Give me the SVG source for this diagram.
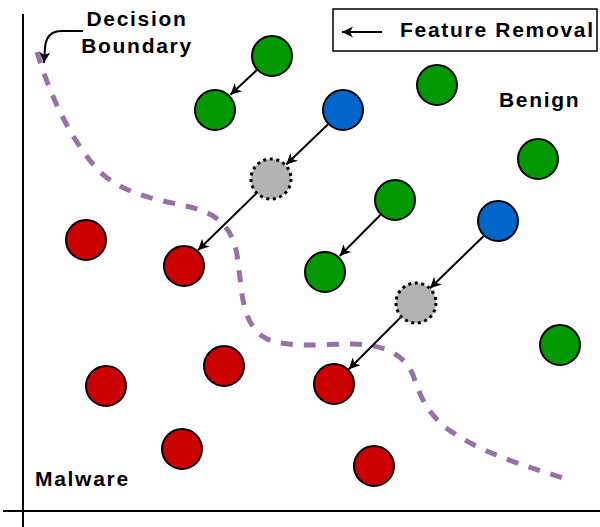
<svg xmlns="http://www.w3.org/2000/svg" width="600" height="527" viewBox="0 0 600 527">
<style>
.g{fill:#009900;stroke:#000;stroke-width:2}
.b{fill:#0066cc;stroke:#000;stroke-width:2}
.r{fill:#cc0000;stroke:#000;stroke-width:2}
.x{fill:#b3b3b3;stroke:#000;stroke-width:3;stroke-dasharray:3 3.6}
.t{font-family:"Liberation Sans",Arial,sans-serif;font-weight:bold;font-size:21px;letter-spacing:1.7px;fill:#000}
.a{fill:none;stroke:#000;stroke-width:2;marker-end:url(#ah)}
</style>
<defs>
<marker id="ah" viewBox="-12 -6 13 12" refX="0" refY="0" markerWidth="13" markerHeight="12" markerUnits="userSpaceOnUse" orient="auto">
<path d="M0,0 L-11,-5.5 L-8,0 L-11,5.5 Z" fill="#000"/>
</marker>
</defs>
<g id="axes" stroke="#000" stroke-width="2">
<line x1="23" y1="14" x2="23" y2="527"/>
<line x1="3" y1="511" x2="600" y2="511"/>
</g>
<g id="boundary">
<path d="M37,52 C50,95 70,140 100,172 C125,195 160,200 190,207 C215,213 232,225 237,255 C242,285 240,320 262,336 C280,349 320,344 355,344 C385,345 405,355 413,375 C420,395 425,410 445,427 C475,450 520,465 570,480" fill="none" stroke="#9673a6" stroke-width="5" stroke-dasharray="12 11"/>
</g>
<g id="label-decision">
<text class="t" x="137" y="26" text-anchor="middle">Decision</text>
<text class="t" x="137" y="53" text-anchor="middle">Boundary</text>
</g>
<g id="label-benign"><text class="t" x="499" y="107">Benign</text></g>
<g id="label-malware"><text class="t" x="35" y="486">Malware</text></g>
<g id="legend">
<rect x="333" y="9" width="264" height="42" fill="#fff" stroke="#000" stroke-width="1.5"/>
<line class="a" x1="382" y1="32" x2="342" y2="32"/>
<text class="t" x="400" y="37">Feature Removal</text>
</g>
<g id="connectors">
<path class="a" d="M83,31 L62,31 Q46,31 45,48 L44,63"/>
<line class="a" x1="256.6" y1="70.3" x2="230.4" y2="94.7"/>
<line class="a" x1="327.8" y1="124.5" x2="286.2" y2="164.5"/>
<line class="a" x1="256" y1="193.7" x2="198" y2="250.3"/>
<line class="a" x1="380.3" y1="215" x2="339.7" y2="256"/>
<line class="a" x1="484" y1="235.7" x2="430" y2="288.3"/>
<line class="a" x1="400.2" y1="317.8" x2="348.8" y2="369.2"/>
</g>
<g id="green1"><circle class="g" cx="272" cy="56" r="20"/></g>
<g id="green2"><circle class="g" cx="215" cy="110" r="20"/></g>
<g id="green3"><circle class="g" cx="437" cy="85" r="20"/></g>
<g id="green4"><circle class="g" cx="538" cy="159" r="20"/></g>
<g id="green5"><circle class="g" cx="395" cy="200" r="20"/></g>
<g id="green6"><circle class="g" cx="325" cy="272" r="20"/></g>
<g id="green7"><circle class="g" cx="560" cy="345" r="20"/></g>
<g id="blue1"><circle class="b" cx="343" cy="110" r="20"/></g>
<g id="blue2"><circle class="b" cx="498" cy="221" r="20"/></g>
<g id="gray1"><circle class="x" cx="271" cy="179" r="20"/></g>
<g id="gray2"><circle class="x" cx="416" cy="303" r="20"/></g>
<g id="red1"><circle class="r" cx="86" cy="240" r="20"/></g>
<g id="red2"><circle class="r" cx="184" cy="266" r="20"/></g>
<g id="red3"><circle class="r" cx="224" cy="366" r="20"/></g>
<g id="red4"><circle class="r" cx="106" cy="386" r="20"/></g>
<g id="red5"><circle class="r" cx="334" cy="384" r="20"/></g>
<g id="red6"><circle class="r" cx="182" cy="449" r="20"/></g>
<g id="red7"><circle class="r" cx="374" cy="466" r="20"/></g>
</svg>
